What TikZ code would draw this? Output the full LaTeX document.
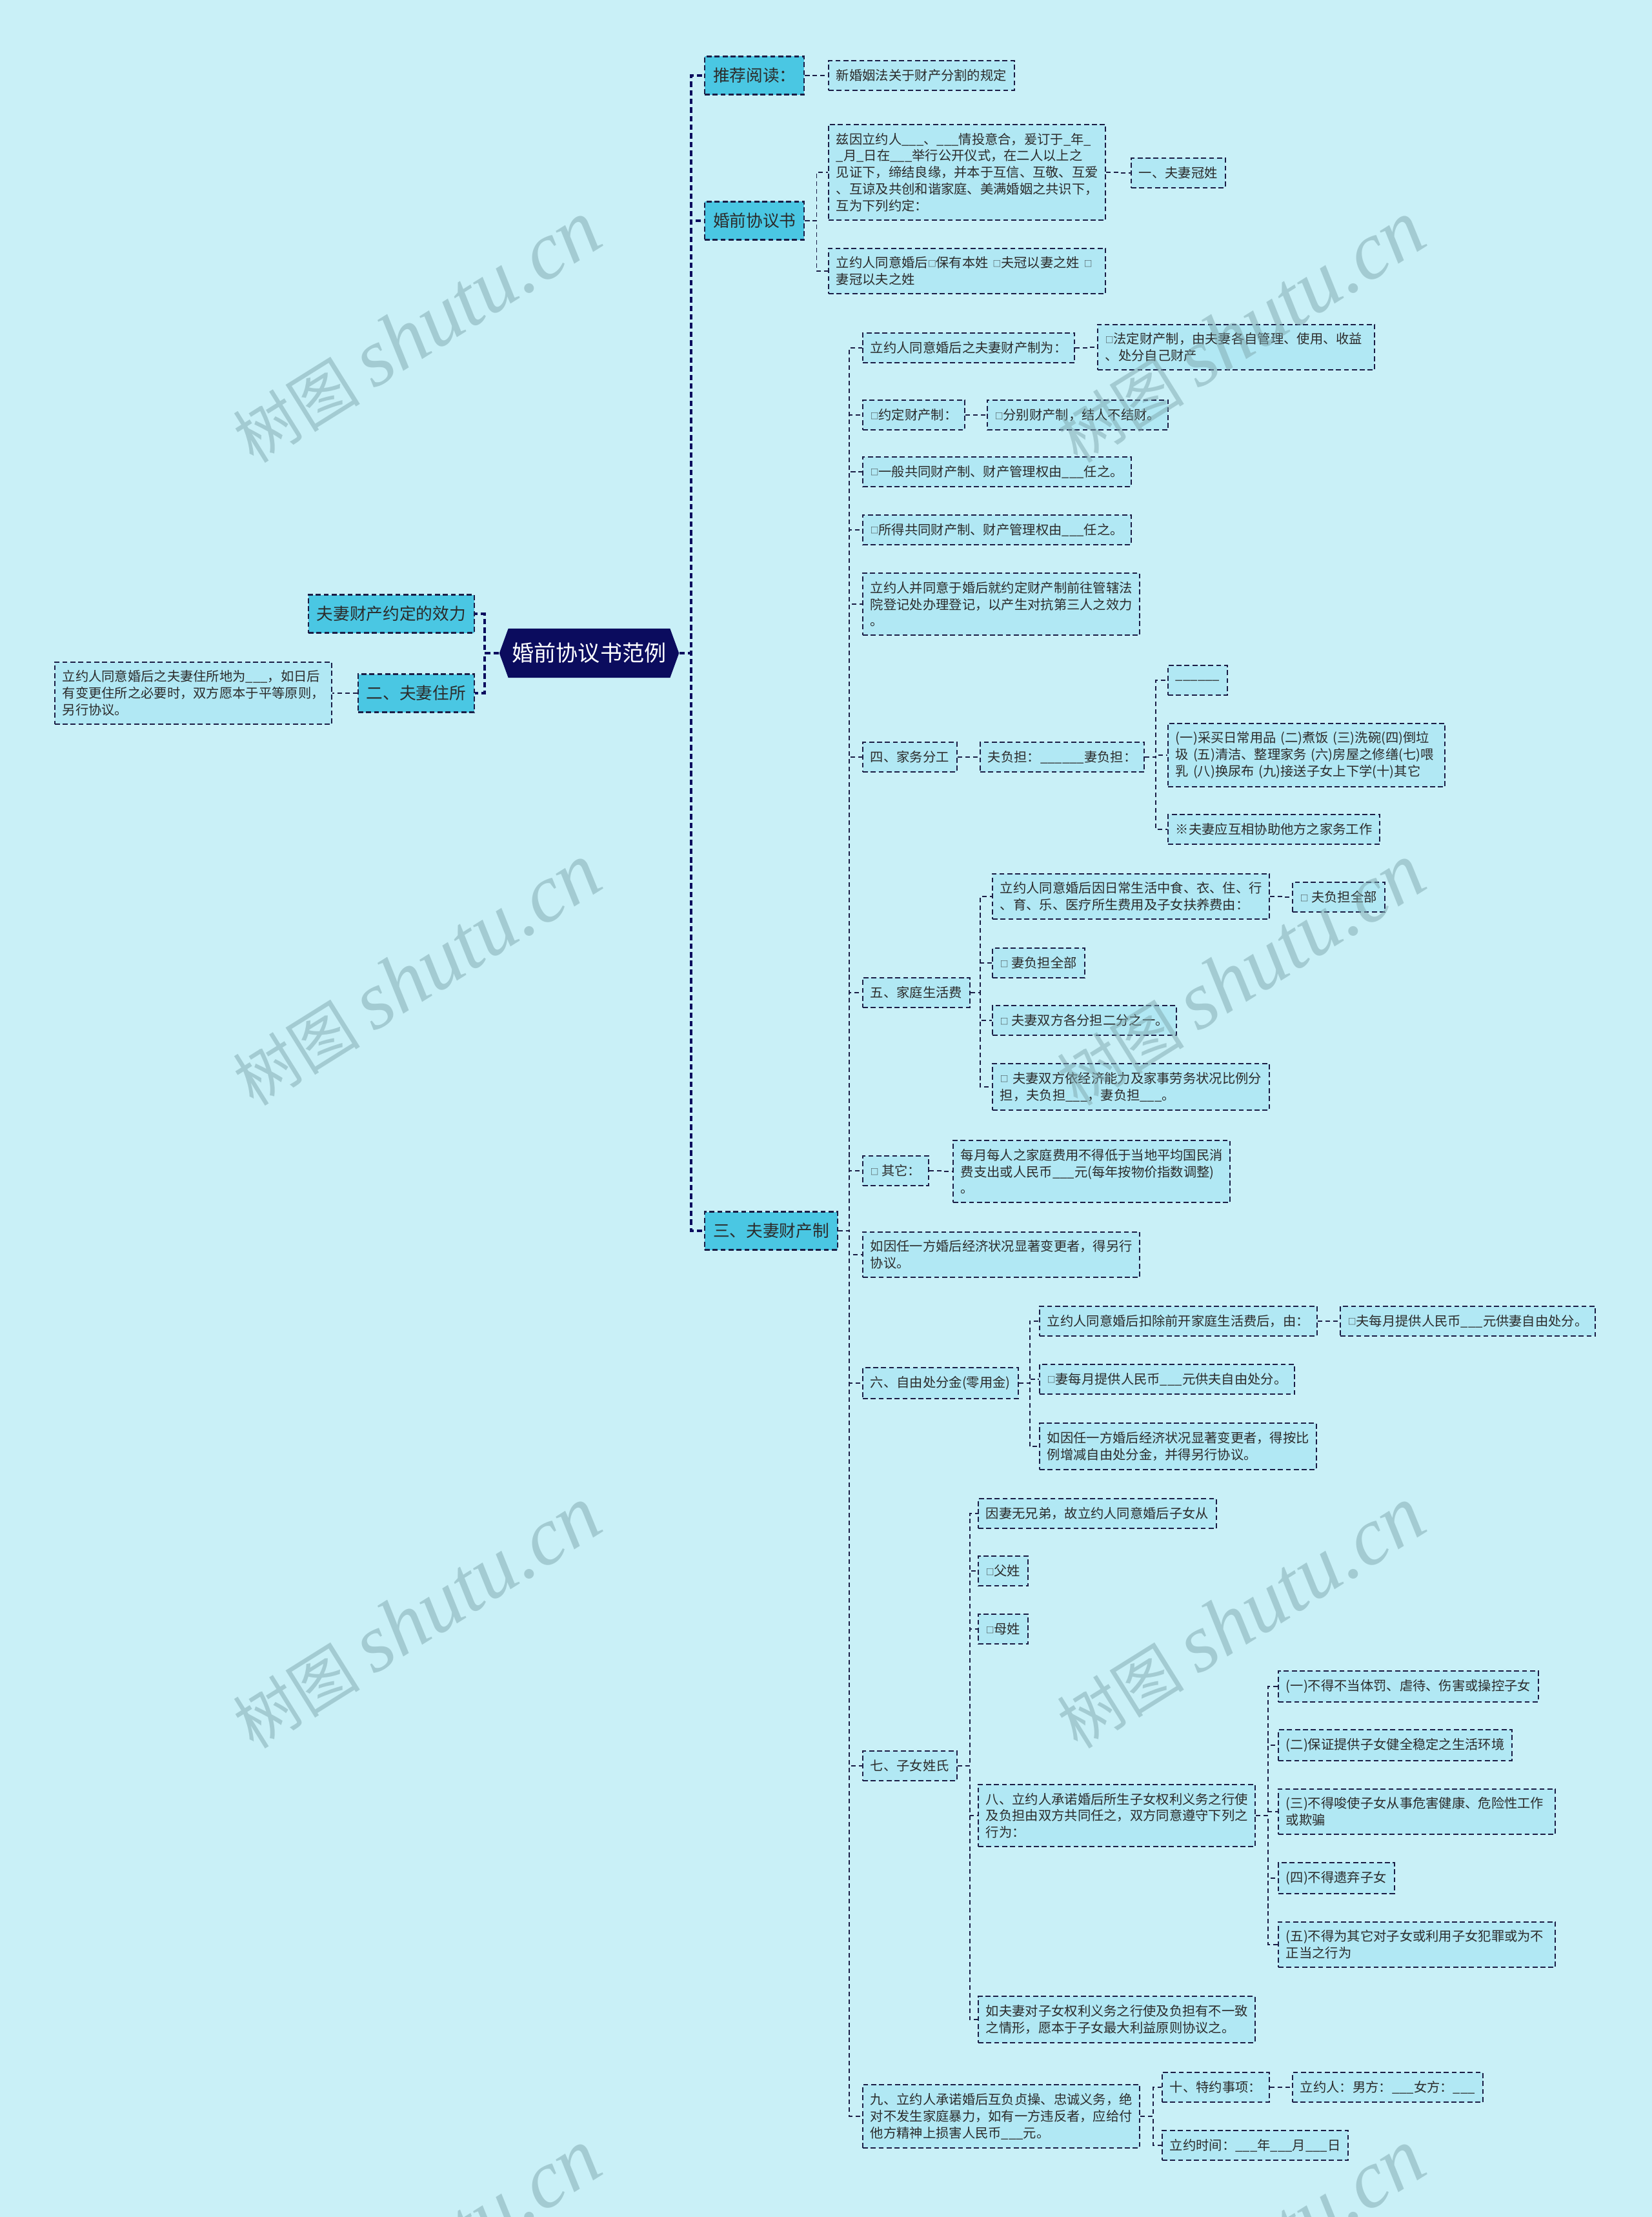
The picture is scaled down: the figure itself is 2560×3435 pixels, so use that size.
\documentclass[tikz,border=0pt]{standalone}
\usepackage{fontspec}
\setmainfont{Noto Sans CJK SC}
\newfontfamily\marklatin{Liberation Serif}
\usetikzlibrary{shapes.symbols}

\definecolor{bgcol}{HTML}{C9F0F7}
\definecolor{topcol}{HTML}{4AC7E3}
\definecolor{leafcol}{HTML}{B1E8F4}
\definecolor{rootcol}{HTML}{0B0C5E}
\definecolor{edgecol}{HTML}{1B1D45}
\definecolor{inkcol}{HTML}{2B2B2B}
\definecolor{markcol}{HTML}{7FA8AE}

\newcommand\fillin{\_\_\_}
\newcommand\tick{\raisebox{0.4pt}{\fontsize{3.6}{4}\selectfont □}}

\tikzset{
  topbox/.style={draw=edgecol, line width=0.6pt, dash pattern=on 2.2pt off 1.3pt,
    fill=topcol, text=inkcol, font=\fontsize{7.3}{9}\selectfont,
    inner xsep=0.13cm, minimum height=0.59cm},
  leaf/.style={draw=edgecol, line width=0.55pt, dash pattern=on 2.2pt off 1.3pt,
    fill=leafcol, text=inkcol, font=\fontsize{5.77}{7.34}\selectfont,
    inner xsep=0.12cm, inner ysep=0.13cm, minimum height=0.46cm},
  wrap/.style={leaf, text width=4.05cm, align=left},
  rootbox/.style={shape=signal, signal to=west and east, signal pointer angle=140,
    fill=rootcol, text=white, font=\fontsize{9.7}{11}\selectfont,
    minimum height=0.76cm, inner xsep=0.06cm},
  link/.style={draw=edgecol, line width=0.55pt, dash pattern=on 2pt off 1.4pt},
  trunk/.style={draw=rootcol, line width=1.1pt, dash pattern=on 2.4pt off 1.4pt},
  wmark/.style={text=markcol, opacity=0.5, rotate=32, font=\fontsize{28}{28}\selectfont}
}

\begin{document}
\begin{tikzpicture}[x=0.01cm, y=-0.01cm]
  \useasboundingbox (0,0) rectangle (2560,3435);
  \fill[bgcol] (0,0) rectangle (2560,3435);
  \clip (0,0) rectangle (2560,3435);

  \node[rootbox] (root) at (913,1012) {婚前协议书范例};
  \node[topbox, anchor=west] (rec) at (1091,117) {推荐阅读：};
  \node[topbox, anchor=west] (pre) at (1091,342) {婚前协议书};
  \node[topbox, anchor=west] (sys) at (1091,1907) {三、夫妻财产制};
  \node[topbox, anchor=east] (eff) at (736,951) {夫妻财产约定的效力};
  \node[topbox, anchor=east] (home) at (736,1074) {二、夫妻住所};

  \node[leaf, anchor=west] (recA) at (1283,117) {新婚姻法关于财产分割的规定};
  \node[wrap, anchor=west] (preA) at (1283,267) {兹因立约人\fillin{}、\fillin{}情投意合，爰订于\_年\_\\\_月\_日在\fillin{}举行公开仪式，在二人以上之\\见证下，缔结良缘，并本于互信、互敬、互爱\\、互谅及共创和谐家庭、美满婚姻之共识下，\\互为下列约定：};
  \node[leaf, anchor=west] (preAa) at (1752,268) {一、夫妻冠姓};
  \node[wrap, anchor=west] (preB) at (1283,420) {立约人同意婚后\tick{}保有本姓 \tick{}夫冠以妻之姓 \tick{}\\妻冠以夫之姓};
  \node[wrap, anchor=east] (homeA) at (515,1074) {立约人同意婚后之夫妻住所地为\fillin{}，如日后\\有变更住所之必要时，双方愿本于平等原则，\\另行协议。};

  \node[leaf, anchor=west] (s1) at (1336,539) {立约人同意婚后之夫妻财产制为：};
  \node[wrap, anchor=west] (s1a) at (1700,538) {\tick{}法定财产制，由夫妻各自管理、使用、收益\\、处分自己财产};
  \node[leaf, anchor=west] (s2) at (1336,643) {\tick{}约定财产制：};
  \node[leaf, anchor=west] (s2a) at (1529,643) {\tick{}分别财产制，结人不结财。};
  \node[leaf, anchor=west] (s3) at (1336,731) {\tick{}一般共同财产制、财产管理权由\fillin{}任之。};
  \node[leaf, anchor=west] (s4) at (1336,821) {\tick{}所得共同财产制、财产管理权由\fillin{}任之。};
  \node[wrap, anchor=west] (s5) at (1336,936) {立约人并同意于婚后就约定财产制前往管辖法\\院登记处办理登记，以产生对抗第三人之效力\\。};
  \node[leaf, anchor=west] (s6) at (1336,1173) {四、家务分工};
  \node[leaf, anchor=west] (s6a) at (1518,1173) {夫负担：\_\_\_\_\_\_妻负担：};
  \node[leaf, anchor=west] (s6b) at (1809,1054) {\_\_\_\_\_\_};
  \node[wrap, anchor=west] (s6c) at (1809,1170) {(一)采买日常用品 (二)煮饭 (三)洗碗(四)倒垃\\圾 (五)清洁、整理家务 (六)房屋之修缮(七)喂\\乳 (八)换尿布 (九)接送子女上下学(十)其它};
  \node[leaf, anchor=west] (s6d) at (1809,1285) {※夫妻应互相协助他方之家务工作};
  \node[leaf, anchor=west] (s7) at (1336,1538) {五、家庭生活费};
  \node[wrap, anchor=west] (s7a) at (1537,1389) {立约人同意婚后因日常生活中食、衣、住、行\\、育、乐、医疗所生费用及子女扶养费由：};
  \node[leaf, anchor=west] (s7b) at (2002,1390) {\tick{} 夫负担全部};
  \node[leaf, anchor=west] (s7c) at (1537,1492) {\tick{} 妻负担全部};
  \node[leaf, anchor=west] (s7d) at (1537,1581) {\tick{} 夫妻双方各分担二分之一。};
  \node[wrap, anchor=west] (s7e) at (1537,1684) {\tick{} 夫妻双方依经济能力及家事劳务状况比例分\\担，夫负担\fillin{}，妻负担\fillin{}。};
  \node[leaf, anchor=west] (s8) at (1336,1814) {\tick{} 其它：};
  \node[wrap, anchor=west] (s8a) at (1476,1815) {每月每人之家庭费用不得低于当地平均国民消\\费支出或人民币\fillin{}元(每年按物价指数调整)\\。};
  \node[wrap, anchor=west] (s9) at (1336,1944) {如因任一方婚后经济状况显著变更者，得另行\\协议。};
  \node[leaf, anchor=west] (s10) at (1336,2143) {六、自由处分金(零用金)};
  \node[leaf, anchor=west] (s10a) at (1610,2047) {立约人同意婚后扣除前开家庭生活费后，由：};
  \node[leaf, anchor=west] (s10b) at (2076,2047) {\tick{}夫每月提供人民币\fillin{}元供妻自由处分。};
  \node[leaf, anchor=west] (s10c) at (1610,2137) {\tick{}妻每月提供人民币\fillin{}元供夫自由处分。};
  \node[wrap, anchor=west] (s10d) at (1610,2241) {如因任一方婚后经济状况显著变更者，得按比\\例增减自由处分金，并得另行协议。};
  \node[leaf, anchor=west] (s11) at (1336,2736) {七、子女姓氏};
  \node[leaf, anchor=west] (s11a) at (1515,2345) {因妻无兄弟，故立约人同意婚后子女从};
  \node[leaf, anchor=west] (s11b) at (1515,2434) {\tick{}父姓};
  \node[leaf, anchor=west] (s11c) at (1515,2524) {\tick{}母姓};
  \node[wrap, anchor=west] (s11d) at (1515,2813) {八、立约人承诺婚后所生子女权利义务之行使\\及负担由双方共同任之，双方同意遵守下列之\\行为：};
  \node[leaf, anchor=west] (s11e) at (1980,2613) {(一)不得不当体罚、虐待、伤害或操控子女};
  \node[leaf, anchor=west] (s11f) at (1980,2704) {(二)保证提供子女健全稳定之生活环境};
  \node[wrap, anchor=west] (s11g) at (1980,2807) {(三)不得唆使子女从事危害健康、危险性工作\\或欺骗};
  \node[leaf, anchor=west] (s11h) at (1980,2910) {(四)不得遗弃子女};
  \node[wrap, anchor=west] (s11i) at (1980,3013) {(五)不得为其它对子女或利用子女犯罪或为不\\正当之行为};
  \node[wrap, anchor=west] (s11j) at (1515,3129) {如夫妻对子女权利义务之行使及负担有不一致\\之情形，愿本于子女最大利益原则协议之。};
  \node[wrap, anchor=west] (s12) at (1336,3279) {九、立约人承诺婚后互负贞操、忠诚义务，绝\\对不发生家庭暴力，如有一方违反者，应给付\\他方精神上损害人民币\fillin{}元。};
  \node[leaf, anchor=west] (s12a) at (1800,3234) {十、特约事项：};
  \node[leaf, anchor=west] (s12b) at (2002,3234) {立约人：男方：\fillin{}女方：\fillin{}};
  \node[leaf, anchor=west] (s12c) at (1800,3324) {立约时间：\fillin{}年\fillin{}月\fillin{}日};

  \foreach \c in {rec,pre,sys}
    \draw[trunk] (root.east) -- ++(18,0) |- (\c.west);
  \foreach \c in {eff,home}
    \draw[trunk] (root.west) -- ++(-22,0) |- (\c.east);
  \draw[link] (home.west) -- (homeA.east);

  \foreach \p/\c/\d in {rec/recA/18, pre/preA/18, pre/preB/18, preA/preAa/19,
      sys/s1/17, sys/s2/17, sys/s3/17, sys/s4/17, sys/s5/17, sys/s6/17,
      sys/s7/17, sys/s8/17, sys/s9/17, sys/s10/17, sys/s11/17, sys/s12/17,
      s1/s1a/20, s2/s2a/17, s6/s6a/17, s6a/s6b/17, s6a/s6c/17, s6a/s6d/17,
      s7/s7a/15, s7/s7c/15, s7/s7d/15, s7/s7e/15, s7a/s7b/19, s8/s8a/20,
      s10/s10a/17, s10/s10c/17, s10/s10d/17, s10a/s10b/19,
      s11/s11a/19, s11/s11b/19, s11/s11c/19, s11/s11d/19, s11/s11j/19,
      s11d/s11e/19, s11d/s11f/19, s11d/s11g/19, s11d/s11h/19, s11d/s11i/19,
      s12/s12a/20, s12/s12c/20, s12a/s12b/28}
    \draw[link] (\p.east) -- ++(\d,0) |- (\c.west);

  \foreach \mx in {646,1923}
    \foreach \my in {515,1511,2507,3503}
      \node[wmark] at (\mx,\my) {树图 {\marklatin\itshape\fontsize{36}{36}\selectfont shutu.cn}};
\end{tikzpicture}
\end{document}
